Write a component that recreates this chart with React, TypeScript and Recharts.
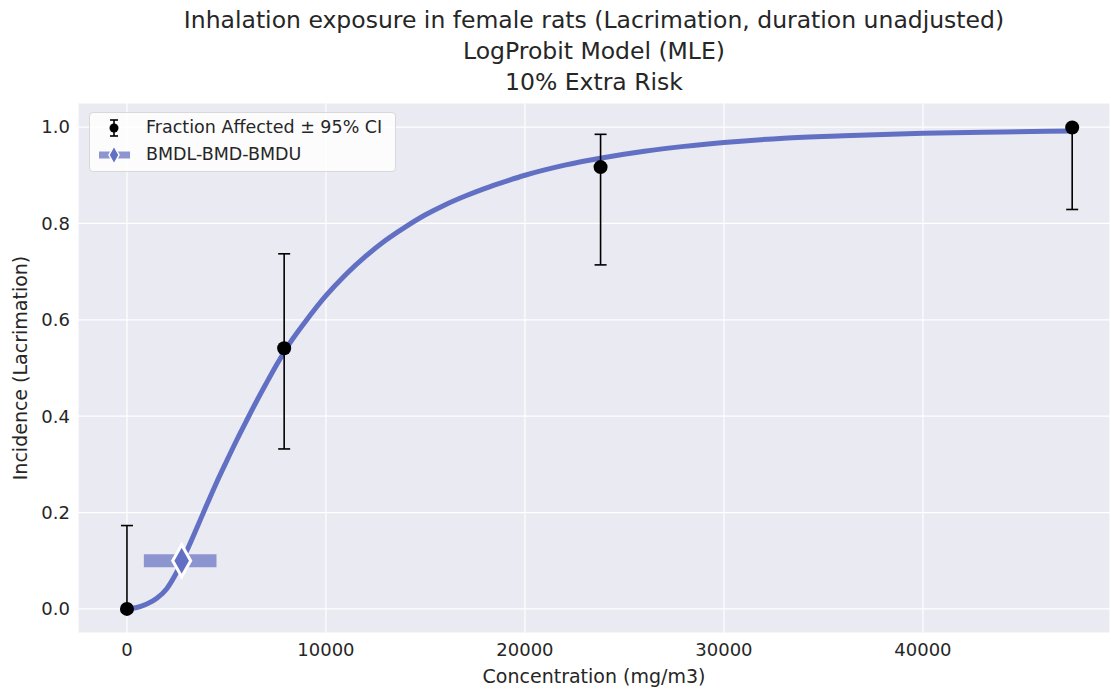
import React from 'react';
import { ComposedChart, Line, Scatter, XAxis, YAxis, CartesianGrid, ErrorBar, Label } from 'recharts';

// observed doses and fraction affected with 95% CI
const doses = [0, 7900, 23800, 47500];
const incidence = [0, 0.541, 0.917, 0.999];
const ciLower = [0, 0.332, 0.714, 0.829];
const ciUpper = [0.173, 0.737, 0.985, 1.0];

// fitted LogProbit curve
const curveX = [0, 500, 1000, 1500, 2000, 2500, 3000, 3500, 4000, 4500, 5000, 5500, 6000, 6500, 7000, 7500, 8000, 9000, 10000, 11000, 12000, 13000, 14000, 15000, 16000, 17000, 18000, 19000, 20000, 22000, 24000, 26000, 28000, 30000, 33000, 36000, 40000, 44000, 47500];
const curveY = [0, 0.003, 0.01, 0.022, 0.042, 0.076, 0.12, 0.167, 0.215, 0.262, 0.306, 0.349, 0.39, 0.43, 0.468, 0.505, 0.54, 0.598, 0.65, 0.694, 0.732, 0.765, 0.793, 0.818, 0.839, 0.857, 0.873, 0.887, 0.9, 0.921, 0.937, 0.95, 0.96, 0.968, 0.977, 0.982, 0.987, 0.99, 0.992];

// BMDL, BMD, BMDU at 10% extra risk
const bmdl = 850;
const bmd = 2750;
const bmdu = 4500;
const bmr = 0.1;

const xTicks = [0, 10000, 20000, 30000, 40000];
const yTicks = [0, 0.2, 0.4, 0.6, 0.8, 1.0];

const titleLines = [
  'Inhalation exposure in female rats (Lacrimation, duration unadjusted)',
  'LogProbit Model (MLE)',
  '10% Extra Risk',
];

const curveColor = '#6270c4';
const bandColor = '#8d95d0';
const textColor = '#262626';
const font = '"DejaVu Sans", sans-serif';

const observed = doses.map((d, i) => ({
  x: d,
  y: incidence[i],
  err: [incidence[i] - ciLower[i], ciUpper[i] - incidence[i]],
}));
const curve = curveX.map((x, i) => ({ x, y: curveY[i] }));
const bmdBand = [{ x: bmdl, y: bmr }, { x: bmdu, y: bmr }];
const bmdPoint = [{ x: bmd, y: bmr }];

const Diamond = (props: any) => {
  const { cx, cy } = props;
  if (cx == null || cy == null) return null;
  const w = 9, h = 16;
  return (
    <path
      d={`M${cx},${cy - h} L${cx + w},${cy} L${cx},${cy + h} L${cx - w},${cy} Z`}
      fill={curveColor}
      stroke="#fff"
      strokeWidth={3}
    />
  );
};

const Dot = (props: any) => {
  const { cx, cy } = props;
  if (cx == null || cy == null) return null;
  return <circle cx={cx} cy={cy} r={7} fill="#000" />;
};

export default function App() {
  return (
    <div style={{ position: 'absolute', left: 0, top: 0, width: 1111, height: 690, background: '#fff', fontFamily: font }}>
      {titleLines.map((t, i) => (
        <div
          key={t}
          style={{ position: 'absolute', left: 78, width: 1032, top: 7 + i * 31, textAlign: 'center', fontSize: 23.5, color: textColor, lineHeight: '26px' }}
        >
          {t}
        </div>
      ))}
      <ComposedChart width={1111} height={690} margin={{ top: 103, right: 1, bottom: 0, left: 0 }}>
        <CartesianGrid fill="#eaeaf2" stroke="#fff" strokeWidth={1.2} />
        <XAxis
          type="number"
          dataKey="x"
          domain={[-2460, 49400]}
          ticks={xTicks}
          allowDataOverflow
          axisLine={false}
          tickLine={false}
          height={57}
          tick={{ fill: textColor, fontSize: 18, fontFamily: font }}
          tickMargin={4}
        >
          <Label value="Concentration (mg/m3)" position="insideBottom" offset={7} style={{ fill: textColor, fontSize: 19, fontFamily: font }} />
        </XAxis>
        <YAxis
          type="number"
          dataKey="y"
          domain={[-0.05, 1.05]}
          ticks={yTicks}
          allowDataOverflow
          axisLine={false}
          tickLine={false}
          width={78}
          tickFormatter={(v: number) => v.toFixed(1)}
          tick={{ fill: textColor, fontSize: 18, fontFamily: font }}
          tickMargin={2}
        >
          <Label value="Incidence (Lacrimation)" angle={-90} position="insideLeft" offset={20} style={{ fill: textColor, fontSize: 19, fontFamily: font, textAnchor: 'middle' }} />
        </YAxis>
        <Line data={curve} dataKey="y" type="monotone" stroke={curveColor} strokeWidth={5} dot={false} activeDot={false} isAnimationActive={false} />
        <Line data={bmdBand} dataKey="y" type="linear" stroke={bandColor} strokeWidth={13} strokeLinecap="butt" dot={false} activeDot={false} isAnimationActive={false} />
        <Scatter data={observed} dataKey="y" shape={<Dot />} isAnimationActive={false}>
          <ErrorBar dataKey="err" direction="y" width={6} stroke="#000" strokeWidth={1.6} isAnimationActive={false} />
        </Scatter>
        <Scatter data={bmdPoint} dataKey="y" shape={<Diamond />} isAnimationActive={false} />
      </ComposedChart>
      <div
        style={{
          position: 'absolute', left: 89, top: 112, width: 307, height: 60, boxSizing: 'border-box',
          background: 'rgba(255,255,255,0.85)', border: '1px solid #d8d8d8', borderRadius: 4,
          fontSize: 17.5, color: textColor,
        }}
      >
        <svg width={40} height={58} style={{ position: 'absolute', left: 4, top: 0 }}>
          <line x1={20} y1={7} x2={20} y2={23} stroke="#000" strokeWidth={1.6} />
          <line x1={16} y1={7} x2={24} y2={7} stroke="#000" strokeWidth={1.6} />
          <line x1={16} y1={23} x2={24} y2={23} stroke="#000" strokeWidth={1.6} />
          <circle cx={20} cy={15} r={4.5} fill="#000" />
          <line x1={5} y1={42} x2={36} y2={42} stroke={bandColor} strokeWidth={7} />
          <path d="M20,33 L25,42 L20,51 L15,42 Z" fill={curveColor} stroke="#fff" strokeWidth={1.5} />
        </svg>
        <div style={{ position: 'absolute', left: 56, top: 4, lineHeight: '20px' }}>Fraction Affected ± 95% CI</div>
        <div style={{ position: 'absolute', left: 56, top: 31, lineHeight: '20px' }}>BMDL-BMD-BMDU</div>
      </div>
    </div>
  );
}
